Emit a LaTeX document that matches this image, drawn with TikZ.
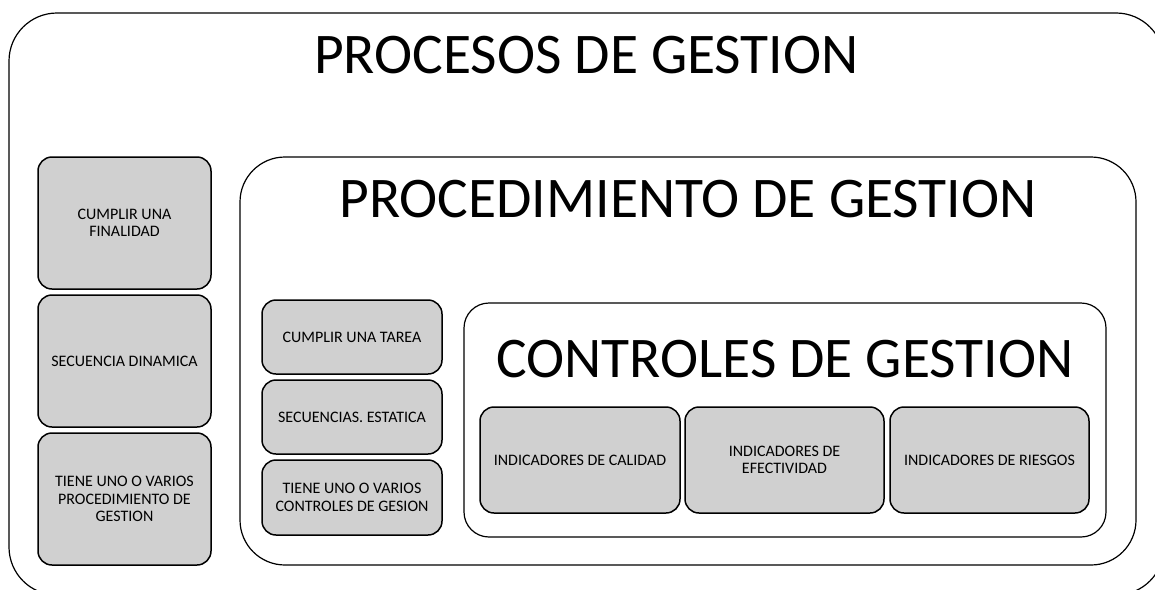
\documentclass[tikz,border=0pt]{standalone}
\usepackage{fontspec}
\setmainfont{Carlito}
\usepackage{tikz}
\usetikzlibrary{shapes,positioning}
\usepackage{xcolor}
\definecolor{boxgray}{RGB}{208,208,208}

\tikzset{
  frame/.style={draw, line width=1.2pt, rectangle, rounded corners=#1, inner sep=0pt},
  graybox/.style={draw, line width=1.5pt, fill=boxgray, rectangle, rounded corners=14pt,
    align=center, inner sep=2pt, font=\fontsize{16}{17.5}\selectfont},
  bigtitle/.style={anchor=base, inner sep=0pt, font=\fontsize{57.5}{60}\selectfont}
}

\begin{document}
\begin{tikzpicture}[x=1pt, y=-1pt]
  \useasboundingbox (0,0) rectangle (1155,589);
  \clip (0,0) rectangle (1155,589);

  % Frames
  \node[frame=48pt, minimum width=1155pt, minimum height=582pt] (procesos) at (586.5,304) {};
  \node[frame=45pt, minimum width=896pt, minimum height=408pt] (procedimiento) at (688,361) {};
  \node[frame=25pt, minimum width=642pt, minimum height=234pt] (controles) at (785,420) {};

  % Titles
  \node[bigtitle] (t-procesos) at (586.5,73) {PROCESOS DE GESTION};
  \node[bigtitle] (t-procedimiento) at (688,217) {PROCEDIMIENTO DE GESTION};
  \node[bigtitle] (t-controles) at (785,377) {CONTROLES DE GESTION};

  % Left column
  \node[graybox, minimum width=173pt, minimum height=132pt] (finalidad) at (124.5,223) {CUMPLIR UNA\\FINALIDAD};
  \node[graybox, minimum width=173pt, minimum height=132pt] (dinamica) at (124.5,361) {SECUENCIA DINAMICA};
  \node[graybox, minimum width=173pt, minimum height=132pt] (varios-proc) at (124.5,499) {TIENE UNO O VARIOS\\PROCEDIMIENTO DE\\GESTION};

  % Middle column
  \node[graybox, minimum width=180pt, minimum height=74pt] (tarea) at (352,337) {CUMPLIR UNA TAREA};
  \node[graybox, minimum width=180pt, minimum height=74pt] (estatica) at (352,417) {SECUENCIAS. ESTATICA};
  \node[graybox, minimum width=180pt, minimum height=75pt] (varios-ctrl) at (352,497.5) {TIENE UNO O VARIOS\\CONTROLES DE GESION};

  % Indicators
  \node[graybox, minimum width=200pt, minimum height=106pt] (calidad) at (580,460) {INDICADORES DE CALIDAD};
  \node[graybox, minimum width=199pt, minimum height=106pt] (efectividad) at (784.5,460) {INDICADORES DE\\EFECTIVIDAD};
  \node[graybox, minimum width=199pt, minimum height=106pt] (riesgos) at (989.5,460) {INDICADORES DE RIESGOS};
\end{tikzpicture}
\end{document}
